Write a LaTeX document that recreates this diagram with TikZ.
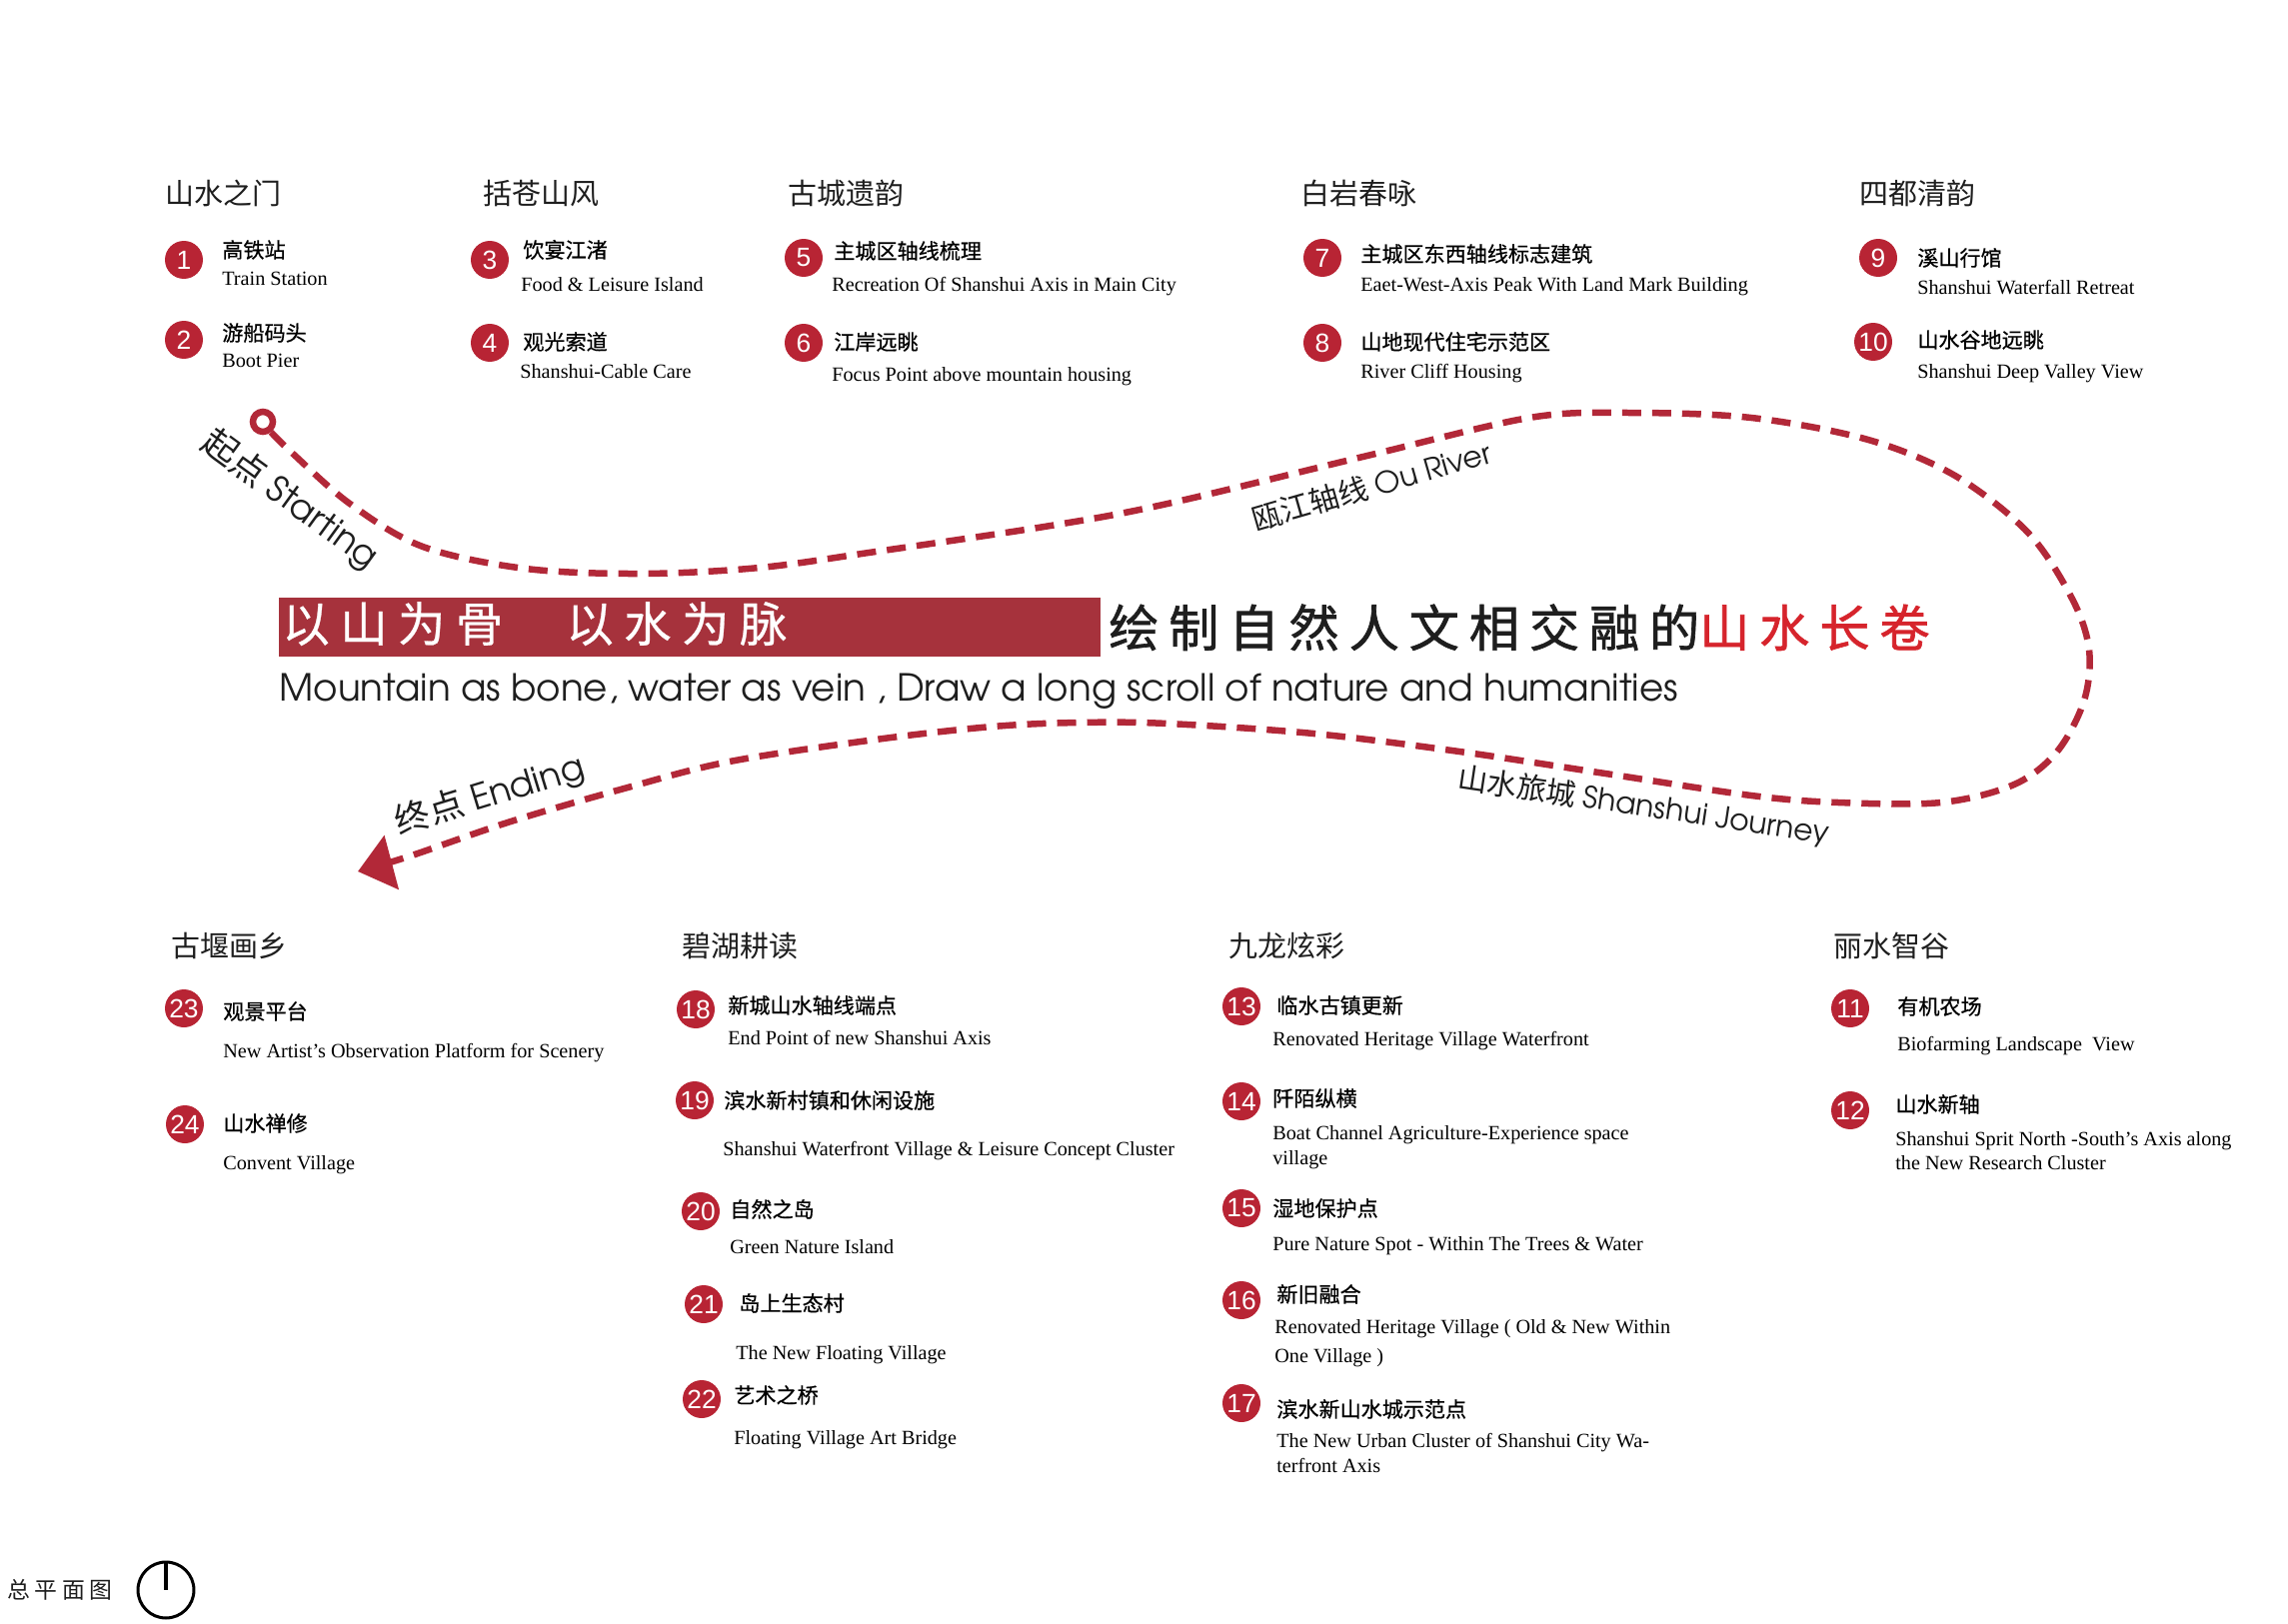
\documentclass[tikz,border=0pt]{standalone}
\usepackage{fontspec}
\usepackage{graphicx}
\setmainfont{Liberation Serif}
\newfontfamily\cjk{Noto Sans CJK SC}
\newfontfamily\cjkm{Noto Sans CJK SC}[FakeBold=0.6]
\newfontfamily\cjkt{Noto Sans CJK SC}[FakeBold=1.3]
\newfontfamily\numf{Liberation Sans}
\newfontfamily\gothic{texgyreadventor-regular.otf}
\usetikzlibrary{arrows.meta}
\definecolor{circ}{RGB}{184,36,52}
\definecolor{dashc}{RGB}{178,40,56}
\definecolor{band}{RGB}{166,50,60}
\definecolor{hired}{RGB}{214,36,44}
\definecolor{ink}{RGB}{30,30,30}
\begin{document}
\begin{tikzpicture}[x=0.02cm,y=-0.02cm,
  num/.style={circle, fill=circ, text=white, inner sep=0pt, minimum size=0.76cm, font=\numf\fontsize{15}{15}\selectfont},
  head/.style={anchor=base west, inner sep=0pt, text=ink, font=\cjk\fontsize{16.5}{16.5}\selectfont},
  zh/.style={anchor=base west, inner sep=0pt, text=black, font=\cjkm\fontsize{12}{12}\selectfont},
  en/.style={anchor=base west, inner sep=0pt, text=black, font=\fontsize{11.5}{11.5}\selectfont},
  route/.style={draw=dashc, line width=0.13cm, dash pattern=on 0.38cm off 0.22cm},
  routelabel/.style={inner sep=0pt, text=ink, font=\fontsize{17}{17}\selectfont},
  bigroutelabel/.style={inner sep=0pt, text=ink, font=\fontsize{20}{20}\selectfont}
]
\useasboundingbox (0,0) rectangle (2289,1625);

% ---------- top headings ----------
\node[head] (h1) at (165,205) {山水之门};
\node[head] (h2) at (483,205) {括苍山风};
\node[head] (h3) at (788,205) {古城遗韵};
\node[head] (h4) at (1301,205) {白岩春咏};
\node[head] (h5) at (1860,205) {四都清韵};

% ---------- top items ----------
\node[num] (n1) at (184,260) {1};
\node[zh] (z1) at (222,258) {高铁站};
\node[en] (e1) at (222,286) {Train Station};
\node[num] (n2) at (184,340) {2};
\node[zh] (z2) at (222,341) {游船码头};
\node[en] (e2) at (222,368) {Boot Pier};

\node[num] (n3) at (490,260) {3};
\node[zh] (z3) at (523,258) {饮宴江渚};
\node[en] (e3) at (521,292) {Food \& Leisure Island};
\node[num] (n4) at (490,343) {4};
\node[zh] (z4) at (523,350) {观光索道};
\node[en] (e4) at (520,379) {Shanshui-Cable Care};

\node[num] (n5) at (804,258) {5};
\node[zh] (z5) at (834,259) {主城区轴线梳理};
\node[en] (e5) at (832,292) {Recreation Of Shanshui Axis in Main City};
\node[num] (n6) at (804,343) {6};
\node[zh] (z6) at (834,350) {江岸远眺};
\node[en] (e6) at (832,382) {Focus Point above mountain housing};

\node[num] (n7) at (1323,258) {7};
\node[zh] (z7) at (1361,262) {主城区东西轴线标志建筑};
\node[en] (e7) at (1361,292) {Eaet-West-Axis Peak With Land Mark Building};
\node[num] (n8) at (1323,343) {8};
\node[zh] (z8) at (1361,350) {山地现代住宅示范区};
\node[en] (e8) at (1361,379) {River Cliff Housing};

\node[num] (n9) at (1879,258) {9};
\node[zh] (z9) at (1918,266) {溪山行馆};
\node[en] (e9) at (1918,295) {Shanshui Waterfall Retreat};
\node[num] (n10) at (1874,342) {10};
\node[zh] (z10) at (1918,348) {山水谷地远眺};
\node[en] (e10) at (1918,379) {Shanshui Deep Valley View};

% ---------- central title ----------
\node[fill=band, minimum width=16.44cm, minimum height=1.18cm, anchor=north west, inner sep=0pt] (bar) at (279,598) {};
\node[anchor=base west, inner sep=0pt, text=white, font=\cjkm\fontsize{27}{27}\selectfont\addfontfeature{LetterSpace=22}] (t1) at (282,642) {以山为骨};
\node[anchor=base west, inner sep=0pt, text=white, font=\cjkm\fontsize{27}{27}\selectfont\addfontfeature{LetterSpace=22}] (t2) at (566,642) {以水为脉};
\node[anchor=base west, inner sep=0pt, text=ink, font=\cjkt\fontsize{28.5}{28.5}\selectfont\addfontfeature{LetterSpace=20}] (t3) at (1109,647) {绘制自然人文相交融的\textcolor{hired}{山水长卷}};
\node[anchor=base west, inner sep=0pt, text=ink] (sub) at (279,701) {\resizebox{28cm}{!}{\gothic Mountain as bone, water as vein , Draw a long scroll of nature and humanities}};

% ---------- route ----------
\node[circle, draw=dashc, line width=0.13cm, inner sep=0pt, minimum size=0.4cm] (start) at (263,422) {};
\coordinate (finish) at (358,872);
\draw[route, -{Triangle[length=0.7cm, width=1.1cm]}] plot[smooth, tension=0.55] coordinates {
 (start.-52) (292,453) (350,504) (423,547) (526,569) (642,574) (760,568) (876,552)
 (1051,526) (1168,504) (1372,455) (1530,418) (1628,413) (1752,418) (1869,440)
 (1956,476) (2029,533) (2073,599) (2090,650) (2085,701) (2058,752) (2015,785)
 (1942,803) (1839,803) (1752,796) (1606,774) (1460,752) (1314,734) (1168,724)
 (1080,723) (993,727) (876,740) (730,762) (628,788) (511,822) (409,857) (finish)};

\node[bigroutelabel, rotate=-36] (lstart) at (290,500) {{\cjk 起点} {\gothic Starting}};
\node[routelabel, rotate=16] (lriver) at (1372,486) {{\cjk 瓯江轴线} {\gothic Ou River}};
\node[routelabel, rotate=-8.5] (ljourney) at (1644,807) {{\cjk 山水旅城} {\gothic Shanshui Journey}};
\node[bigroutelabel, rotate=17] (lend) at (490,796) {{\cjk 终点} {\gothic Ending}};

% ---------- bottom headings ----------
\node[head] (h6) at (171,957) {古堰画乡};
\node[head] (h7) at (682,957) {碧湖耕读};
\node[head] (h8) at (1229,957) {九龙炫彩};
\node[head] (h9) at (1834,957) {丽水智谷};

% ---------- bottom items ----------
\node[num] (n23) at (184,1009) {23};
\node[zh] (z23) at (223,1020) {观景平台};
\node[en] (e23) at (223,1058) {New Artist’s Observation Platform for Scenery};
\node[num] (n24) at (185,1125) {24};
\node[zh] (z24) at (223,1132) {山水禅修};
\node[en] (e24) at (223,1170) {Convent Village};

\node[num] (n18) at (696,1010) {18};
\node[zh] (z18) at (728,1014) {新城山水轴线端点};
\node[en] (e18) at (728,1045) {End Point of new Shanshui Axis};
\node[num] (n19) at (695,1101) {19};
\node[zh] (z19) at (724,1109) {滨水新村镇和休闲设施};
\node[en] (e19) at (723,1156) {Shanshui Waterfront Village \& Leisure Concept Cluster};
\node[num] (n20) at (701,1212) {20};
\node[zh] (z20) at (730,1218) {自然之岛};
\node[en] (e20) at (730,1254) {Green Nature Island};
\node[num] (n21) at (704,1305) {21};
\node[zh] (z21) at (739,1312) {岛上生态村};
\node[en] (e21) at (736,1360) {The New Floating Village};
\node[num] (n22) at (702,1400) {22};
\node[zh] (z22) at (734,1404) {艺术之桥};
\node[en] (e22) at (734,1445) {Floating Village Art Bridge};

\node[num] (n13) at (1242,1007) {13};
\node[zh] (z13) at (1277,1014) {临水古镇更新};
\node[en] (e13) at (1273,1046) {Renovated Heritage Village Waterfront};
\node[num] (n14) at (1242,1102) {14};
\node[zh] (z14) at (1273,1107) {阡陌纵横};
\node[en] (e14a) at (1273,1140) {Boat Channel Agriculture-Experience space};
\node[en] (e14b) at (1273,1165) {village};
\node[num] (n15) at (1242,1209) {15};
\node[zh] (z15) at (1273,1217) {湿地保护点};
\node[en] (e15) at (1273,1251) {Pure Nature Spot - Within The Trees \& Water};
\node[num] (n16) at (1242,1301) {16};
\node[zh] (z16) at (1277,1303) {新旧融合};
\node[en] (e16a) at (1275,1334) {Renovated Heritage Village ( Old \& New Within};
\node[en] (e16b) at (1275,1363) {One Village )};
\node[num] (n17) at (1242,1404) {17};
\node[zh] (z17) at (1277,1418) {滨水新山水城示范点};
\node[en] (e17a) at (1277,1448) {The New Urban Cluster of Shanshui City Wa-};
\node[en] (e17b) at (1277,1473) {terfront Axis};

\node[num] (n11) at (1851,1009) {11};
\node[zh] (z11) at (1898,1015) {有机农场};
\node[en] (e11) at (1898,1051) {Biofarming Landscape~ View};
\node[num] (n12) at (1851,1111) {12};
\node[zh] (z12) at (1896,1113) {山水新轴};
\node[en] (e12a) at (1896,1146) {Shanshui Sprit North -South’s Axis along};
\node[en] (e12b) at (1896,1170) {the New Research Cluster};

% ---------- plan label and north sign ----------
\node[anchor=base west, inner sep=0pt, text=ink, font=\cjk\fontsize{13}{13}\selectfont\addfontfeature{LetterSpace=20}] (plan) at (7,1599) {总平面图};
\node[circle, draw=black, line width=0.06cm, minimum size=1.12cm, inner sep=0pt] (north) at (166,1591) {};
\draw[line width=0.08cm] (north.north) -- (north.center);
\end{tikzpicture}
\end{document}
